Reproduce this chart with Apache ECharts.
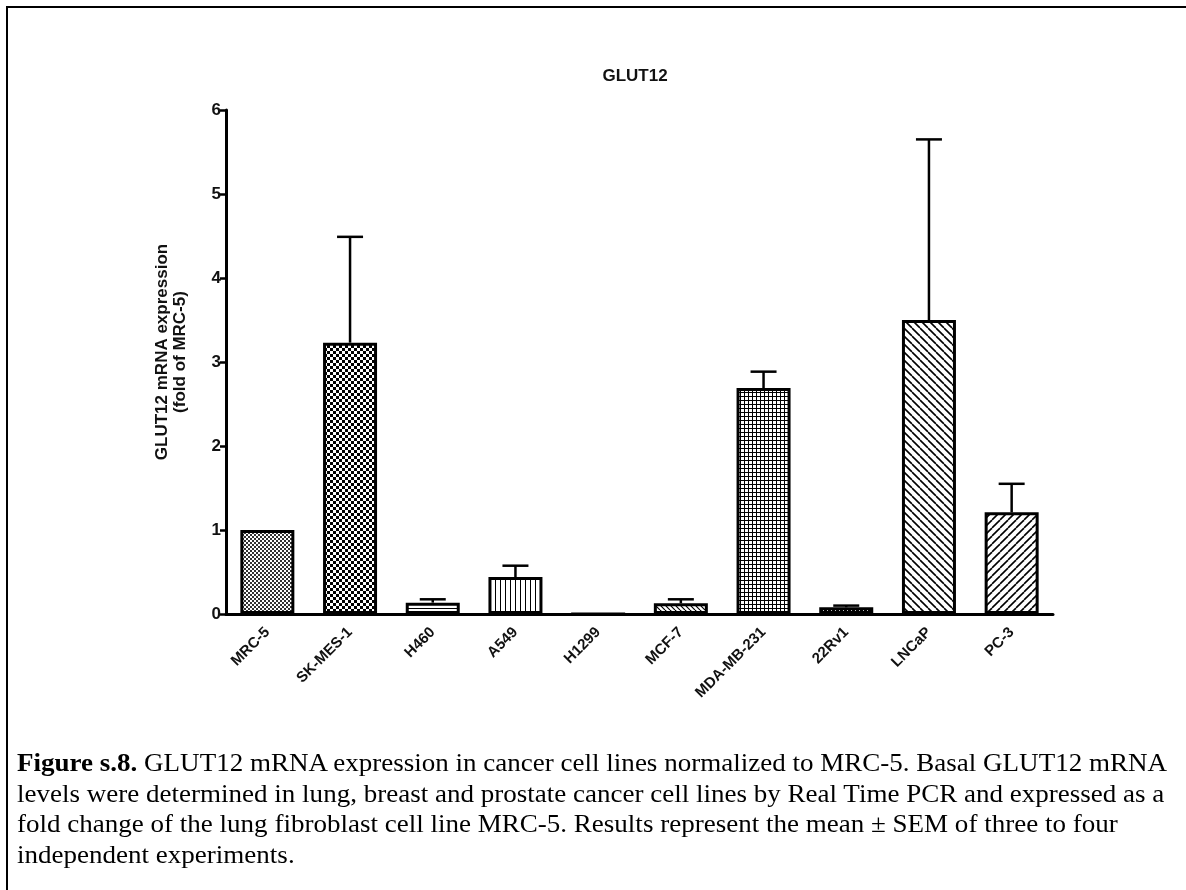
<!DOCTYPE html>
<html>
<head>
<meta charset="utf-8">
<script src="https://cdn.jsdelivr.net/npm/echarts@6/dist/echarts.min.js"></script>
<style>
  html, body { margin:0; padding:0; background:#fff; }
  #wrap { position:relative; width:1186px; height:890px; overflow:hidden; }
  #chart { position:absolute; left:0; top:0; width:1186px; height:890px; }
  #frameTop { position:absolute; left:6px; top:6px; width:1180px; height:2px; background:#000; }
  #frameLeft { position:absolute; left:6px; top:6px; width:2px; height:884px; background:#000; }
  #caption { position:absolute; left:17px; top:748px; font-family:"Liberation Serif","Times New Roman",serif; font-size:26px; color:#000; }
  #caption .ln { white-space:nowrap; height:30.6px; line-height:30.6px; transform-origin:0 50%; }
</style>
</head>
<body>
<div id="wrap">
  <div id="chart"></div>
  <div id="frameTop"></div>
  <div id="frameLeft"></div>
  <div id="caption">
    <div class="ln"><b>Figure s.8.</b> GLUT12 mRNA expression in cancer cell lines normalized to MRC-5. Basal GLUT12 mRNA</div>
    <div class="ln">levels were determined in lung, breast and prostate cancer cell lines by Real Time PCR and expressed as a</div>
    <div class="ln">fold change of the lung fibroblast cell line MRC-5. Results represent the mean ± SEM of three to four</div>
    <div class="ln">independent experiments.</div>
  </div>
</div>
<script>
// ---- data ----
var categories = ['MRC-5', 'SK-MES-1', 'H460', 'A549', 'H1299', 'MCF-7', 'MDA-MB-231', '22Rv1', 'LNCaP', 'PC-3'];
var meanValues = [1.00, 3.23, 0.135, 0.44, 0, 0.127, 2.69, 0.08, 3.50, 1.21];
var semValues  = [0, 1.26, 0.04, 0.135, 0, 0.048, 0.195, 0.02, 2.15, 0.34];
var yTicks = [0, 1, 2, 3, 4, 5, 6];
var patternNames = ['fineChecker', 'checker', 'hlines', 'vlines', 'none', 'smallBack', 'grid', 'dashes', 'back', 'fwd'];
var chartTitle = 'GLUT12';
var yAxisName = 'GLUT12 mRNA expression\n(fold of MRC-5)';

// ---- fit caption lines to reference width ----
(function(){
  var lines = document.querySelectorAll('#caption .ln');
  var first = lines[0];
  var span = document.createElement('span');
  span.innerHTML = first.innerHTML;
  span.style.whiteSpace = 'nowrap';
  first.innerHTML = '';
  first.appendChild(span);
  var natural = span.getBoundingClientRect().width;
  var s = 1150 / natural;
  for (var i = 0; i < lines.length; i++) lines[i].style.transform = 'scaleX(' + s + ')';
})();

// ---- pattern tiles ----
function makeTile(name) {
  var c = document.createElement('canvas');
  var ctx;
  function sz(n){ c.width = n; c.height = n; ctx = c.getContext('2d'); ctx.fillStyle = '#fff'; ctx.fillRect(0,0,n,n); ctx.fillStyle = '#000'; ctx.strokeStyle = '#000'; }
  if (name === 'fineChecker') {
    sz(4); ctx.fillStyle = '#333'; ctx.fillRect(0,0,2,2); ctx.fillRect(2,2,2,2);
  } else if (name === 'checker') {
    sz(6); ctx.fillRect(0,0,3,3); ctx.fillRect(3,3,3,3);
  } else if (name === 'hlines') {
    sz(4); ctx.fillRect(0,0,4,1);
  } else if (name === 'vlines') {
    sz(5); ctx.fillRect(0,0,1,5);
  } else if (name === 'grid') {
    sz(4); ctx.fillRect(0,0,4,1); ctx.fillRect(0,0,1,4);
  } else if (name === 'dashes') {
    sz(4); ctx.fillRect(0,1,3,2);
  } else if (name === 'smallBack' || name === 'back' || name === 'fwd') {
    var n = name === 'smallBack' ? 5 : 8;
    var lw = name === 'smallBack' ? 1.2 : 1.6;
    sz(n); ctx.lineWidth = lw;
    for (var k = -1; k <= 1; k++) {
      ctx.beginPath();
      if (name === 'fwd') { ctx.moveTo(k*n, n); ctx.lineTo(k*n + n, 0); }
      else { ctx.moveTo(k*n, 0); ctx.lineTo(k*n + n, n); }
      ctx.stroke();
    }
  } else {
    sz(2);
  }
  return c;
}

var barData = meanValues.map(function(v, i){
  return { value: v, itemStyle: { color: { image: makeTile(patternNames[i]), repeat: 'repeat' } } };
});
var errData = meanValues.map(function(v, i){ return [i, v, semValues[i]]; });

var chart = echarts.init(document.getElementById('chart'), null, { renderer: 'canvas' });
var fontFam = '"Liberation Sans", Arial, sans-serif';
chart.setOption({
  animation: false,
  backgroundColor: '#fff',
  title: {
    text: chartTitle, left: 630, top: 63, textAlign: 'center',
    textStyle: { fontFamily: fontFam, fontWeight: 'bold', fontSize: 17, color: '#111' }
  },
  grid: { left: 226, right: 133, top: 110, bottom: 276, containLabel: false },
  xAxis: {
    type: 'category', data: categories,
    axisLine: { lineStyle: { color: '#000', width: 3 } },
    axisTick: { alignWithLabel: true, length: 7, lineStyle: { color: '#000', width: 3 } },
    axisLabel: { rotate: 45, margin: 16, fontFamily: fontFam, fontWeight: 'bold', fontSize: 15, color: '#111' },
    splitLine: { show: false }
  },
  yAxis: {
    type: 'value', min: 0, max: 6, interval: 1,
    name: yAxisName, nameLocation: 'middle', nameGap: 37, nameRotate: 90,
    nameTextStyle: { fontFamily: fontFam, fontWeight: 'bold', fontSize: 17, color: '#111', lineHeight: 18, padding: [0, 0, 0, 20] },
    axisLine: { show: true, lineStyle: { color: '#000', width: 3 } },
    axisTick: { show: true, length: 6, lineStyle: { color: '#000', width: 2.5 } },
    axisLabel: { margin: 5, fontFamily: fontFam, fontWeight: 'bold', fontSize: 17, color: '#111',
      formatter: function(v){ return yTicks.indexOf(v) >= 0 ? String(v) : ''; } },
    splitLine: { show: false }
  },
  series: [
    {
      type: 'bar', data: barData, barWidth: 54,
      itemStyle: { borderColor: '#000', borderWidth: 3 },
      z: 2
    },
    {
      type: 'custom', data: errData, z: 3,
      renderItem: function(params, api) {
        var i = api.value(0), m = api.value(1), e = api.value(2);
        if (!(e > 0)) return null;
        var p0 = api.coord([i, m]);
        var p1 = api.coord([i, m + e]);
        var hw = 13;
        return {
          type: 'group',
          children: [
            { type: 'line', shape: { x1: p0[0], y1: p0[1], x2: p1[0], y2: p1[1] }, style: { stroke: '#000', lineWidth: 2.5 } },
            { type: 'line', shape: { x1: p1[0] - hw, y1: p1[1], x2: p1[0] + hw, y2: p1[1] }, style: { stroke: '#000', lineWidth: 2.5 } }
          ]
        };
      }
    }
  ]
});
</script>
</body>
</html>
